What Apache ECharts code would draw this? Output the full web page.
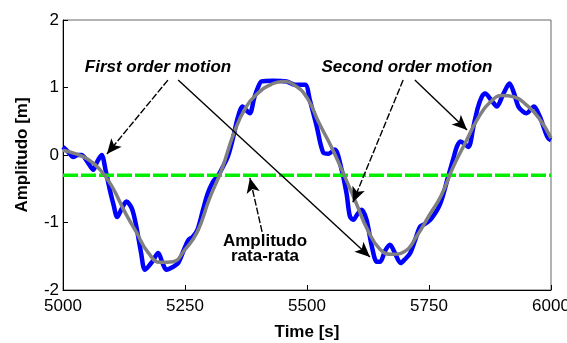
<!DOCTYPE html>
<html>
<head>
<meta charset="utf-8">
<script src="https://cdn.jsdelivr.net/npm/echarts@6/dist/echarts.min.js"></script>
<style>
  html, body { margin: 0; padding: 0; background: #fff; }
  #chart { width: 567px; height: 343px; }
</style>
</head>
<body>
<div id="chart"></div>
<script>
// First order motion (wave-frequency wiggles on top of the slow swing)
const firstTime = [5000, 5010, 5021, 5030, 5038, 5050, 5062, 5070, 5079, 5088, 5096, 5104, 5111, 5120, 5130, 5141,
  5150, 5160, 5168, 5183, 5195, 5204, 5212, 5225, 5236, 5248, 5257, 5266, 5276, 5287, 5296, 5307, 5318, 5328, 5338,
  5349, 5358, 5368, 5376, 5383, 5392, 5400, 5407, 5430, 5458, 5475, 5496, 5506, 5520, 5533, 5544, 5557, 5571, 5581,
  5588, 5595, 5603, 5612, 5622, 5633, 5643, 5650, 5660, 5670, 5680, 5692, 5700, 5711, 5722, 5732, 5742, 5755, 5773,
  5790, 5800, 5807, 5814, 5822, 5831, 5841, 5850, 5858, 5865, 5877, 5889, 5902, 5915, 5924, 5933, 5943, 5950, 5965,
  5977, 5988, 5994, 6000];
const firstAmp = [0.12, 0.05, -0.03, 0.00, 0.00, -0.10, -0.22, -0.10, 0.00, -0.25, -0.52, -0.75, -0.92, -0.80, -0.69, -0.79,
  -1.05, -1.45, -1.70, -1.58, -1.45, -1.60, -1.70, -1.66, -1.60, -1.40, -1.26, -1.21, -1.10, -0.81, -0.58, -0.40, -0.30, -0.17, -0.02,
  0.27, 0.55, 0.72, 0.66, 0.62, 0.85, 1.01, 1.09, 1.10, 1.09, 1.04, 1.04, 0.81, 0.42, 0.04, 0.02, 0.08, -0.22, -0.57,
  -0.91, -0.96, -0.88, -0.81, -0.96, -1.36, -1.58, -1.58, -1.42, -1.33, -1.45, -1.60, -1.55, -1.46, -1.25, -1.06, -1.02, -0.94, -0.72,
  -0.30, -0.05, 0.12, 0.20, 0.17, 0.12, 0.42, 0.70, 0.86, 0.91, 0.82, 0.72, 0.90, 1.06, 0.92, 0.72, 0.64, 0.62, 0.72,
  0.57, 0.35, 0.25, 0.22];

// Second order motion (slow swing)
const secondTime = [5000, 5025, 5050, 5075, 5100, 5125, 5150, 5175, 5200, 5225, 5250, 5275, 5300, 5325, 5350, 5375,
  5400, 5425, 5450, 5475, 5500, 5525, 5550, 5575, 5600, 5625, 5650, 5675, 5700, 5725, 5750, 5775, 5800, 5825, 5850,
  5875, 5900, 5925, 5950, 5975, 6000];
const secondAmp = [0.07, 0.02, -0.06, -0.21, -0.46, -0.82, -1.14, -1.45, -1.59, -1.58, -1.40, -1.14, -0.65, -0.22, 0.32, 0.71,
  0.92, 1.04, 1.09, 1.03, 0.85, 0.47, 0.12, -0.28, -0.70, -1.12, -1.40, -1.47, -1.43, -1.20, -0.90, -0.60, -0.17, 0.19, 0.54,
  0.78, 0.88, 0.86, 0.74, 0.55, 0.25];

// Mean amplitude level
const meanTime = [5000, 6000];
const meanAmp = [-0.3, -0.3];

// Tick values
const xTicks = { min: 5000, max: 6000, step: 250 };
const yTicks = { min: -2, max: 2, step: 1 };

// Callout arrows, [from, to] in data units
const arrowsDashed = [
  [[5215, 1.11], [5090, 0.015]],
  [[5697, 1.11], [5594, -0.70]],
  [[5408, -1.14], [5383, -0.34]]
];
const arrowsSolid = [
  [[5236, 1.11], [5629, -1.51]],
  [[5721, 1.11], [5828, 0.37]]
];

const zip = (xs, ys) => xs.map((x, i) => [x, ys[i]]);
const FONT = '"Liberation Sans", Arial, Helvetica, sans-serif';

const toMarkLine = (pairs) => pairs.map(([a, b]) => [{ coord: a }, { coord: b }]);

const chart = echarts.init(document.getElementById('chart'), null, { renderer: 'canvas' });

chart.setOption({
  animation: false,
  backgroundColor: '#ffffff',
  grid: {
    left: 63, right: 16, top: 20, bottom: 53,
    outerBoundsMode: 'none',
    containLabel: false,
    show: true, borderColor: '#666', borderWidth: 1, backgroundColor: 'transparent'
  },
  xAxis: {
    type: 'value',
    min: xTicks.min, max: xTicks.max, interval: xTicks.step,
    name: 'Time [s]',
    nameLocation: 'middle',
    nameGap: 34,
    nameTextStyle: { fontFamily: FONT, fontWeight: 'bold', fontSize: 17, color: '#000' },
    axisLine: { show: true, onZero: false, lineStyle: { color: '#000', width: 1 } },
    axisTick: { show: true, inside: true, length: 5, lineStyle: { color: '#000' } },
    axisLabel: { fontFamily: FONT, fontSize: 17, color: '#000', margin: 8, formatter: (v) => String(v) },
    splitLine: { show: false }
  },
  yAxis: {
    type: 'value',
    min: yTicks.min, max: yTicks.max, interval: yTicks.step,
    name: 'Amplitudo [m]',
    nameLocation: 'middle',
    nameGap: 32,
    nameTextStyle: { fontFamily: FONT, fontWeight: 'bold', fontSize: 17, color: '#000' },
    axisLine: { show: true, onZero: false, lineStyle: { color: '#000', width: 1 } },
    axisTick: { show: true, inside: true, length: 5, lineStyle: { color: '#000' } },
    axisLabel: { fontFamily: FONT, fontSize: 17, color: '#000', margin: 4, formatter: (v) => String(v) },
    splitLine: { show: false }
  },
  series: [
    {
      name: 'First order motion',
      type: 'line',
      data: zip(firstTime, firstAmp),
      showSymbol: false,
      smooth: 0.3,
      lineStyle: { color: '#0000ff', width: 4.5 },
      z: 2
    },
    {
      name: 'Amplitudo rata-rata',
      type: 'line',
      data: zip(meanTime, meanAmp),
      showSymbol: false,
      lineStyle: { color: '#00ee00', width: 3.5, type: [15, 3] },
      z: 3
    },
    {
      name: 'Second order motion',
      type: 'line',
      data: zip(secondTime, secondAmp),
      showSymbol: false,
      smooth: 0.5,
      lineStyle: { color: '#808080', width: 3.5 },
      z: 4,
      markLine: {
        silent: true,
        symbol: ['none', 'arrow'],
        symbolSize: [10, 15],
        label: { show: false },
        lineStyle: { color: '#000', width: 1.4, type: 'solid' },
        data: toMarkLine(arrowsSolid)
      }
    },
    {
      name: 'callouts',
      type: 'line',
      data: [],
      z: 5,
      markLine: {
        silent: true,
        symbol: ['none', 'arrow'],
        symbolSize: [10, 15],
        label: { show: false },
        lineStyle: { color: '#000', width: 1.4, type: [7, 2] },
        data: toMarkLine(arrowsDashed)
      }
    }
  ],
  graphic: [
    {
      type: 'text',
      style: {
        text: 'First order motion', x: 158, y: 67,
        font: 'italic bold 17px ' + FONT, fill: '#000',
        align: 'center', verticalAlign: 'middle'
      }
    },
    {
      type: 'text',
      style: {
        text: 'Second order motion', x: 407, y: 67,
        font: 'italic bold 17px ' + FONT, fill: '#000',
        align: 'center', verticalAlign: 'middle'
      }
    },
    {
      type: 'text',
      style: {
        text: 'Amplitudo\nrata-rata', x: 265, y: 249,
        font: 'bold 17px ' + FONT, fill: '#000', lineHeight: 15,
        align: 'center', verticalAlign: 'middle'
      }
    }
  ]
});
</script>
</body>
</html>
